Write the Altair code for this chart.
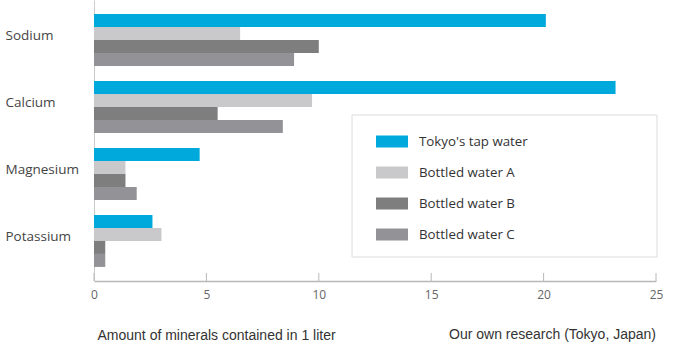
import altair as alt
import pandas as pd

categories = ["Sodium", "Calcium", "Magnesium", "Potassium"]
series = ["Tokyo's tap water", "Bottled water A", "Bottled water B", "Bottled water C"]
tokyo = [20.1, 23.2, 4.7, 2.6]
bottled_a = [6.5, 9.7, 1.4, 3.0]
bottled_b = [10.0, 5.5, 1.4, 0.5]
bottled_c = [8.9, 8.4, 1.9, 0.5]
colors = ["#00a9dc", "#c9c9cb", "#7e7e7e", "#939397"]
x_ticks = [0, 5, 10, 15, 20, 25]

rows = []
for s, vals in zip(series, [tokyo, bottled_a, bottled_b, bottled_c]):
    for cat, v in zip(categories, vals):
        rows.append({"mineral": cat, "series": s, "value": v})
df = pd.DataFrame(rows)

W, H = 562, 281
label_font = "Open Sans"

x_scale = alt.Scale(domain=[0, 25], nice=False, zero=True)

legend_box = alt.Chart(pd.DataFrame({"a": [0]})).mark_rect(
    fill="white", stroke="#dcdcdc", strokeWidth=1
).encode(
    x=alt.value(258), x2=alt.value(563), y=alt.value(115), y2=alt.value(257)
)

bars = alt.Chart(df).mark_bar().encode(
    x=alt.X("value:Q", scale=x_scale,
            axis=alt.Axis(values=x_ticks, grid=False, ticks=False,
                          domainColor="#b8b8b8", domainWidth=1.5,
                          labelFlush=False,
                          labelFont=label_font, labelFontSize=12, labelColor="#666666",
                          labelPadding=8,
                          title="Amount of minerals contained in 1 liter",
                          titleFont="Liberation Sans", titleFontSize=14,
                          titleFontWeight="normal", titleColor="#333333",
                          titleAnchor="start", titleAlign="left",
                          titleX=3, titleY=54, titleBaseline="middle")),
    y=alt.Y("mineral:N", sort=categories,
            scale=alt.Scale(paddingInner=0.224, paddingOuter=0.21),
            axis=alt.Axis(title=None, ticks=False, domainColor="#cccccc",
                          labelAlign="left", labelPadding=89, labelOffset=-4,
                          labelFont=label_font, labelFontSize=13.5, labelColor="#444444")),
    yOffset=alt.YOffset("series:N", sort=series, scale=alt.Scale(paddingInner=0, paddingOuter=0)),
    color=alt.Color("series:N", sort=series,
                    scale=alt.Scale(domain=series, range=colors),
                    legend=alt.Legend(orient="none", legendX=282, legendY=126,
                                      title=None, padding=0,
                                      symbolType="M-1,-0.375L1,-0.375L1,0.375L-1,0.375Z",
                                      symbolSize=1024, symbolStrokeWidth=0,
                                      symbolOpacity=1,
                                      clipHeight=31, rowPadding=0,
                                      labelOffset=11, labelFont=label_font,
                                      labelFontSize=13.3, labelColor="#333333")),
)

ticks = alt.Chart(pd.DataFrame({"t": x_ticks})).mark_rule(
    color="#b8b8b8", strokeWidth=1
).encode(
    x=alt.X("t:Q", scale=x_scale),
    y=alt.value(H - 8), y2=alt.value(H),
)

source = alt.Chart(pd.DataFrame({"a": [0]})).mark_text(
    text="Our own research (Tokyo, Japan)", align="right", baseline="middle",
    font="Liberation Sans", fontSize=14, color="#333333"
).encode(x=alt.value(W), y=alt.value(H + 54))

chart = alt.layer(legend_box, bars, ticks, source).properties(
    width=W, height=H,
    autosize=alt.AutoSizeParams(type="none"),
    padding={"left": 94, "top": 0, "right": 20, "bottom": 73},
).configure_view(stroke=None)

chart.save("out.html", embed_options={"renderer": "svg", "actions": False})
